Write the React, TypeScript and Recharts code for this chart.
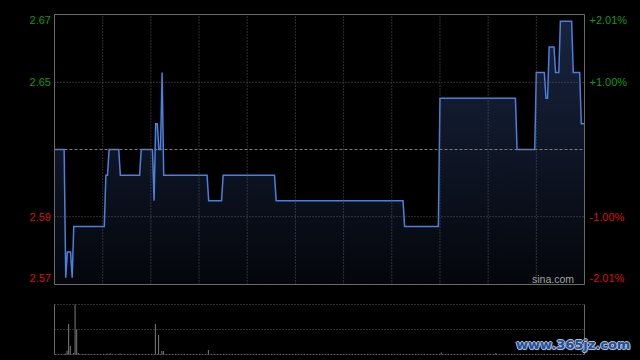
import {
  ComposedChart, Area, Bar, XAxis, YAxis, ReferenceLine,
} from 'recharts';

/* ── data (minute prices from 9:30, 330 trading minutes) ── */

const prevClose = 2.62;

const prices = [
  2.62, 2.62, 2.62, 2.62, 2.62, 2.62, 2.62, 2.57, 2.58, 2.58, // 0
  2.58, 2.57, 2.59, 2.59, 2.59, 2.59, 2.59, 2.59, 2.59, 2.59, // 10
  2.59, 2.59, 2.59, 2.59, 2.59, 2.59, 2.59, 2.59, 2.59, 2.59, // 20
  2.59, 2.59, 2.61, 2.61, 2.62, 2.62, 2.62, 2.62, 2.62, 2.62, // 30
  2.62, 2.61, 2.61, 2.61, 2.61, 2.61, 2.61, 2.61, 2.61, 2.61, // 40
  2.61, 2.61, 2.61, 2.61, 2.62, 2.62, 2.62, 2.62, 2.62, 2.62, // 50
  2.62, 2.62, 2.60, 2.63, 2.63, 2.62, 2.62, 2.65, 2.61, 2.61, // 60
  2.61, 2.61, 2.61, 2.61, 2.61, 2.61, 2.61, 2.61, 2.61, 2.61, // 70
  2.61, 2.61, 2.61, 2.61, 2.61, 2.61, 2.61, 2.61, 2.61, 2.61, // 80
  2.61, 2.61, 2.61, 2.61, 2.61, 2.61, 2.60, 2.60, 2.60, 2.60, // 90
  2.60, 2.60, 2.60, 2.60, 2.60, 2.61, 2.61, 2.61, 2.61, 2.61, // 100
  2.61, 2.61, 2.61, 2.61, 2.61, 2.61, 2.61, 2.61, 2.61, 2.61, // 110
  2.61, 2.61, 2.61, 2.61, 2.61, 2.61, 2.61, 2.61, 2.61, 2.61, // 120
  2.61, 2.61, 2.61, 2.61, 2.61, 2.61, 2.61, 2.61, 2.60, 2.60, // 130
  2.60, 2.60, 2.60, 2.60, 2.60, 2.60, 2.60, 2.60, 2.60, 2.60, // 140
  2.60, 2.60, 2.60, 2.60, 2.60, 2.60, 2.60, 2.60, 2.60, 2.60, // 150
  2.60, 2.60, 2.60, 2.60, 2.60, 2.60, 2.60, 2.60, 2.60, 2.60, // 160
  2.60, 2.60, 2.60, 2.60, 2.60, 2.60, 2.60, 2.60, 2.60, 2.60, // 170
  2.60, 2.60, 2.60, 2.60, 2.60, 2.60, 2.60, 2.60, 2.60, 2.60, // 180
  2.60, 2.60, 2.60, 2.60, 2.60, 2.60, 2.60, 2.60, 2.60, 2.60, // 190
  2.60, 2.60, 2.60, 2.60, 2.60, 2.60, 2.60, 2.60, 2.60, 2.60, // 200
  2.60, 2.60, 2.60, 2.60, 2.60, 2.60, 2.60, 2.60, 2.59, 2.59, // 210
  2.59, 2.59, 2.59, 2.59, 2.59, 2.59, 2.59, 2.59, 2.59, 2.59, // 220
  2.59, 2.59, 2.59, 2.59, 2.59, 2.59, 2.59, 2.59, 2.59, 2.59, // 230
  2.64, 2.64, 2.64, 2.64, 2.64, 2.64, 2.64, 2.64, 2.64, 2.64, // 240
  2.64, 2.64, 2.64, 2.64, 2.64, 2.64, 2.64, 2.64, 2.64, 2.64, // 250
  2.64, 2.64, 2.64, 2.64, 2.64, 2.64, 2.64, 2.64, 2.64, 2.64, // 260
  2.64, 2.64, 2.64, 2.64, 2.64, 2.64, 2.64, 2.64, 2.64, 2.64, // 270
  2.64, 2.64, 2.64, 2.64, 2.64, 2.64, 2.64, 2.64, 2.62, 2.62, // 280
  2.62, 2.62, 2.62, 2.62, 2.62, 2.62, 2.62, 2.62, 2.62, 2.62, // 290
  2.65, 2.65, 2.65, 2.65, 2.65, 2.65, 2.64, 2.64, 2.66, 2.66, // 300
  2.66, 2.66, 2.65, 2.65, 2.65, 2.67, 2.67, 2.67, 2.67, 2.67, // 310
  2.67, 2.67, 2.67, 2.65, 2.65, 2.65, 2.65, 2.65, 2.63, 2.63, // 320
  2.63,                                                       // 330
];

// volume bars (minute, relative size); the rest of the minutes are empty
const volumeMinutes = [7, 8, 9, 10, 12, 13, 14, 15, 19, 22, 33, 34, 35, 41, 63, 65, 67, 68, 96, 100, 120, 180, 241, 275];
const volumeValues = [2, 8, 61, 17, 3, 100, 51, 3, 1, 1, 2, 1, 2, 2, 61, 39, 7, 7, 9, 1, 1, 1, 4, 3];

const pctTicks = [2.01, 1.0, -1.0, -2.01];
const priceLabels = ['2.67', '2.65', '2.59', '2.57'];
const pctLabels = ['+2.01%', '+1.00%', '-1.00%', '-2.01%'];
const gridMinutes = [30, 60, 90, 120, 150, 180, 210, 240, 270, 300];

/* ── derived ── */

const tickValues = pctTicks.map((p) => prevClose * (1 + p / 100));
const yTop = tickValues[0];
const yBottom = tickValues[3];

const priceData = prices.map((p, i) => ({ m: i, p }));
const volumeData = volumeMinutes.map((m, i) => ({ m, v: volumeValues[i] }));

const GREEN = '#0c9c0c';
const RED = '#dd0a0a';
const FONT = '"Liberation Sans", Arial, sans-serif';

function tickIndex(value: number) {
  return tickValues.findIndex((t) => Math.abs(t - value) < 1e-9);
}

function labelY(y: number, i: number) {
  if (i === 0) return y + 5.5;
  if (i === 3) return y - 6.5;
  return y;
}

// eslint-disable-next-line @typescript-eslint/no-explicit-any
const LeftTick = (props: any) => {
  const i = tickIndex(props.payload.value);
  if (i < 0) return null;
  return (
    <text x={51} y={labelY(props.y, i) + 4} textAnchor="end" fontSize={11} fontFamily={FONT}
      fill={pctTicks[i] > 0 ? GREEN : RED}>
      {priceLabels[i]}
    </text>
  );
};

// eslint-disable-next-line @typescript-eslint/no-explicit-any
const RightTick = (props: any) => {
  const i = tickIndex(props.payload.value);
  if (i < 0) return null;
  return (
    <text x={589.5} y={labelY(props.y, i) + 4} textAnchor="start" fontSize={11} fontFamily={FONT}
      fill={pctTicks[i] > 0 ? GREEN : RED}>
      {pctLabels[i]}
    </text>
  );
};

const BORDER = '#6a6a6a';
const GRID = '#5c5c5c';

export default function App() {
  return (
    <div style={{ position: 'fixed', left: 0, top: 0, width: 640, height: 360, background: '#000', overflow: 'hidden' }}>
      <div style={{ position: 'absolute', left: 0, top: 0 }}>
        <ComposedChart width={640} height={290} data={priceData}
          margin={{ top: 14.5, right: 0, bottom: 5.5, left: 0 }}>
          <defs>
            <linearGradient id="fillPrice" x1="0" y1="0" x2="0" y2="1">
              <stop offset="0%" stopColor="#18243f" />
              <stop offset="100%" stopColor="#04060b" />
            </linearGradient>
          </defs>
          <XAxis dataKey="m" type="number" domain={[0, 330]} hide allowDataOverflow />
          <YAxis yAxisId="l" width={54.5} domain={[yBottom, yTop]} ticks={tickValues}
            axisLine={false} tickLine={false} tick={LeftTick} interval={0} allowDataOverflow />
          <YAxis yAxisId="r" orientation="right" width={55.5} domain={[yBottom, yTop]} ticks={tickValues}
            axisLine={false} tickLine={false} tick={RightTick} interval={0} allowDataOverflow />

          {gridMinutes.map((m) => (
            <ReferenceLine key={m} yAxisId="l" x={m} stroke={GRID} strokeDasharray="1 2" />
          ))}
          <ReferenceLine yAxisId="l" y={tickValues[1]} stroke={GRID} strokeDasharray="1 2" />
          <ReferenceLine yAxisId="l" y={tickValues[2]} stroke={GRID} strokeDasharray="1 2" />
          <ReferenceLine yAxisId="l" y={prevClose} stroke="#7a7a7a" strokeDasharray="3 2" />

          <Area yAxisId="l" type="linear" dataKey="p" stroke="#4a80de" strokeWidth={1.5}
            fill="url(#fillPrice)" fillOpacity={1} dot={false} activeDot={false}
            isAnimationActive={false} baseValue={yBottom} />

          <ReferenceLine yAxisId="l" y={yTop} stroke={BORDER} />
          <ReferenceLine yAxisId="l" y={yBottom} stroke={BORDER} />
          <ReferenceLine yAxisId="l" x={0} stroke={BORDER} />
          <ReferenceLine yAxisId="l" x={330} stroke={BORDER} />
        </ComposedChart>
      </div>

      <div style={{ position: 'absolute', left: 0, top: 290 }}>
        <ComposedChart width={640} height={70} data={volumeData}
          margin={{ top: 14.5, right: 55.5, bottom: 5.5, left: 54.5 }}>
          <XAxis dataKey="m" type="number" domain={[0, 330]} hide allowDataOverflow />
          <YAxis domain={[0, 100]} hide />
          <ReferenceLine y={100} stroke={GRID} strokeDasharray="1 2" />
          <ReferenceLine y={50} stroke={GRID} strokeDasharray="1 2" />
          <ReferenceLine y={0} stroke={GRID} strokeDasharray="2 1" />
          <Bar dataKey="v" fill="#7c7c7c" barSize={1} isAnimationActive={false} />
          <ReferenceLine x={0} stroke={BORDER} />
          <ReferenceLine x={330} stroke={BORDER} />
        </ComposedChart>
      </div>

      <div style={{ position: 'absolute', left: 532, top: 273, fontFamily: FONT, fontSize: 10.5, lineHeight: '12px', color: '#a3a3a3' }}>
        sina.com
      </div>
      <div style={{
        position: 'absolute', left: 516, top: 337, fontFamily: '"DejaVu Sans", sans-serif', fontWeight: 'bold',
        fontSize: 13, lineHeight: '16px', color: '#1e4e9e',
        textShadow: '1px 0 0 #b9c1cf, -1px 0 0 #b9c1cf, 0 1px 0 #b9c1cf, 0 -1px 0 #b9c1cf, 1px 1px 1px #8a93a3',
      }}>
        www.365jz.com
      </div>
    </div>
  );
}
